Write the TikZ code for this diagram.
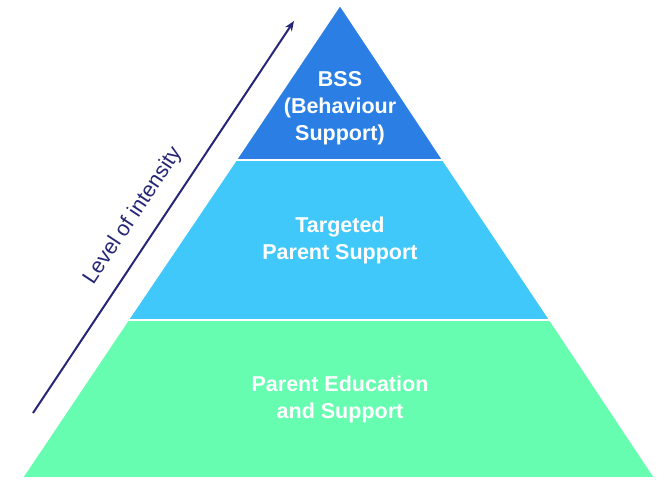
\documentclass[tikz,border=0pt]{standalone}
\usepackage{fontspec}
\setmainfont{Liberation Sans}
\usetikzlibrary{arrows.meta}
\definecolor{tierA}{RGB}{42,126,228}
\definecolor{tierB}{RGB}{64,200,250}
\definecolor{tierC}{RGB}{102,253,176}
\definecolor{navy}{RGB}{38,38,118}
\begin{document}
\begin{tikzpicture}[x=1pt,y=-1pt,
  tier/.style={draw=white,line width=1.6pt,line join=miter},
  lbl/.style={text=white,font=\fontsize{21.5}{27}\selectfont\bfseries,align=center,inner sep=0pt},
  axislbl/.style={text=navy,font=\fontsize{21.5}{25}\selectfont,inner sep=0pt}]
\useasboundingbox (0,0) rectangle (668,482);
\fill[white] (0,0) rectangle (668,482);
% tiers
\path[tier,fill=tierC] (128,320) -- (550,320) -- (655,478) -- (22,478) -- cycle;
\path[tier,fill=tierB] (236,160) -- (443,160) -- (550,320) -- (128,320) -- cycle;
\path[tier,fill=tierA] (340,5) -- (443,160) -- (236,160) -- cycle;
% labels
\node[lbl] (top) at (340,108) {BSS\\(Behaviour\\Support)};
\node[lbl] (mid) at (340,240) {Targeted\\Parent Support};
\node[lbl] (bot) at (340,399) {Parent Education\\and Support};
% arrow
\coordinate (a0) at (33,413);
\coordinate (a1) at (294,21);
\draw[navy,line width=2pt,-{Stealth[length=10pt,width=8pt]}] (a0) -- (a1);
\node[axislbl,rotate=56.4] (lev) at (133,216) {Level of intensity};
\end{tikzpicture}
\end{document}
